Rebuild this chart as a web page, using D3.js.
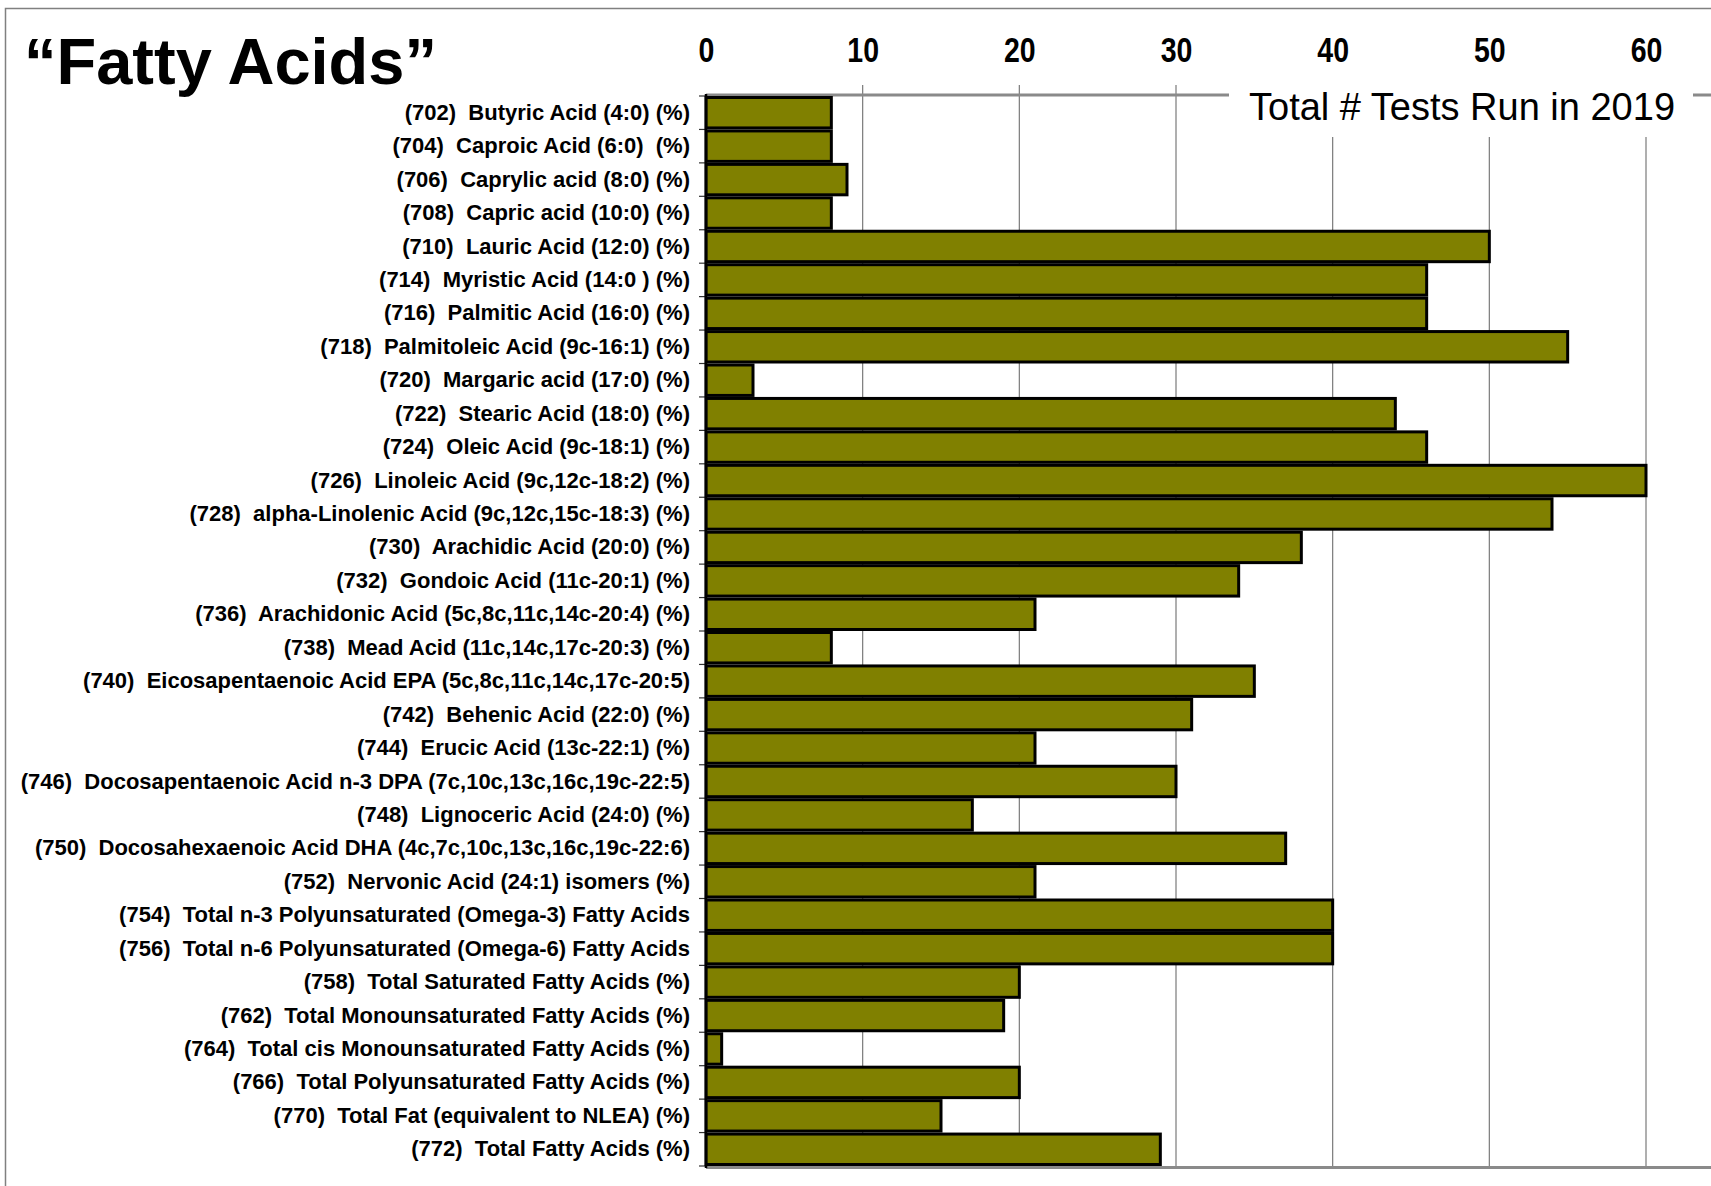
<!DOCTYPE html>
<html><head><meta charset="utf-8">
<script src="https://cdn.jsdelivr.net/npm/d3@7"></script>
<style>
body{margin:0;background:#fff}
svg{display:block}
text{font-family:"Liberation Sans",Arial,Helvetica,sans-serif}
</style>
</head><body>
<svg id="c" width="1711" height="1186"></svg>
<script>
const categories = [
  "(702)  Butyric Acid (4:0) (%)",
  "(704)  Caproic Acid (6:0)  (%)",
  "(706)  Caprylic acid (8:0) (%)",
  "(708)  Capric acid (10:0) (%)",
  "(710)  Lauric Acid (12:0) (%)",
  "(714)  Myristic Acid (14:0 ) (%)",
  "(716)  Palmitic Acid (16:0) (%)",
  "(718)  Palmitoleic Acid (9c-16:1) (%)",
  "(720)  Margaric acid (17:0) (%)",
  "(722)  Stearic Acid (18:0) (%)",
  "(724)  Oleic Acid (9c-18:1) (%)",
  "(726)  Linoleic Acid (9c,12c-18:2) (%)",
  "(728)  alpha-Linolenic Acid (9c,12c,15c-18:3) (%)",
  "(730)  Arachidic Acid (20:0) (%)",
  "(732)  Gondoic Acid (11c-20:1) (%)",
  "(736)  Arachidonic Acid (5c,8c,11c,14c-20:4) (%)",
  "(738)  Mead Acid (11c,14c,17c-20:3) (%)",
  "(740)  Eicosapentaenoic Acid EPA (5c,8c,11c,14c,17c-20:5)",
  "(742)  Behenic Acid (22:0) (%)",
  "(744)  Erucic Acid (13c-22:1) (%)",
  "(746)  Docosapentaenoic Acid n-3 DPA (7c,10c,13c,16c,19c-22:5)",
  "(748)  Lignoceric Acid (24:0) (%)",
  "(750)  Docosahexaenoic Acid DHA (4c,7c,10c,13c,16c,19c-22:6)",
  "(752)  Nervonic Acid (24:1) isomers (%)",
  "(754)  Total n-3 Polyunsaturated (Omega-3) Fatty Acids",
  "(756)  Total n-6 Polyunsaturated (Omega-6) Fatty Acids",
  "(758)  Total Saturated Fatty Acids (%)",
  "(762)  Total Monounsaturated Fatty Acids (%)",
  "(764)  Total cis Monounsaturated Fatty Acids (%)",
  "(766)  Total Polyunsaturated Fatty Acids (%)",
  "(770)  Total Fat (equivalent to NLEA) (%)",
  "(772)  Total Fatty Acids (%)"
];
const tests2019 = [8, 8, 9, 8, 50, 46, 46, 55, 3, 44, 46, 60, 54, 38, 34, 21, 8, 35, 31, 21, 30, 17, 37, 21, 40, 40, 20, 19, 1, 20, 15, 29];
const xTicks = [0, 10, 20, 30, 40, 50, 60];
const chartTitle = "\u201CFatty Acids\u201D";
const legendLabel = "Total # Tests Run in 2019";

const W = 1711, H = 1186;
const svg = d3.select("#c");
svg.append("rect").attr("width", W).attr("height", H).attr("fill", "#fff");

// outer frame (clipped on right/bottom)
svg.append("path").attr("d", `M5.5,${H + 5}V8.5H${W + 5}`)
  .attr("fill", "none").attr("stroke", "#808080").attr("stroke-width", 1.5);

const x = d3.scaleLinear().domain([0, 60]).range([706, 1646]);
const y = d3.scaleBand().domain(categories).range([96, 1166]).padding(0);

// gridlines
svg.append("g").selectAll("line").data(xTicks.slice(1)).join("line")
  .attr("x1", d => x(d)).attr("x2", d => x(d))
  .attr("y1", 85).attr("y2", 1166)
  .attr("stroke", "#7a7a7a").attr("stroke-width", 1.2);

// plot top / bottom borders
svg.append("line").attr("x1", x(0)).attr("x2", W + 5).attr("y1", 95).attr("y2", 95)
  .attr("stroke", "#8a8a8a").attr("stroke-width", 3);
svg.append("line").attr("x1", x(0)).attr("x2", W + 5).attr("y1", 1167.5).attr("y2", 1167.5)
  .attr("stroke", "#8a8a8a").attr("stroke-width", 3);

// top axis labels
const gx = svg.append("g").attr("transform", "translate(0,62)")
  .call(d3.axisTop(x).tickValues(xTicks).tickSize(0).tickPadding(0));
gx.select(".domain").remove();
gx.selectAll("text").attr("font-size", 30).attr("font-weight", "bold").attr("fill", "#000")
  .attr("transform", "scale(0.95,1.17)");

// left category ticks at band boundaries
const bounds = categories.map(c => y(c)).concat([y.range()[1]]);
svg.append("g").selectAll("line").data(bounds).join("line")
  .attr("x1", x(0) - 7).attr("x2", x(0)).attr("y1", d => d).attr("y2", d => d)
  .attr("stroke", "#333").attr("stroke-width", 1.2);

// bars
svg.append("g").selectAll("rect").data(categories).join("rect")
  .attr("x", x(0))
  .attr("y", d => y(d) + 1.5)
  .attr("width", (d, i) => x(tests2019[i]) - x(0))
  .attr("height", y.bandwidth() - 3)
  .attr("fill", "#808000")
  .attr("stroke", "#000").attr("stroke-width", 3);

// left axis line
svg.append("line").attr("x1", x(0)).attr("x2", x(0)).attr("y1", 94).attr("y2", 1168)
  .attr("stroke", "#000").attr("stroke-width", 2.5);

// category labels
const gy = svg.append("g").attr("transform", `translate(${x(0)},0)`)
  .call(d3.axisLeft(y).tickSize(0).tickPadding(16));
gy.select(".domain").remove();
gy.selectAll("text").attr("font-size", 22).attr("font-weight", "bold").attr("fill", "#000")
  .style("white-space", "pre");

// legend box
svg.append("rect").attr("x", 1229).attr("y", 84).attr("width", 464).attr("height", 53).attr("fill", "#fff");
svg.append("text").attr("x", 1249).attr("y", 120).attr("font-size", 38).attr("fill", "#000").text(legendLabel);

// title
svg.append("text").attr("x", 24).attr("y", 84).attr("font-size", 65).attr("font-weight", "bold")
  .attr("fill", "#000").text(chartTitle);
</script>
</body></html>
